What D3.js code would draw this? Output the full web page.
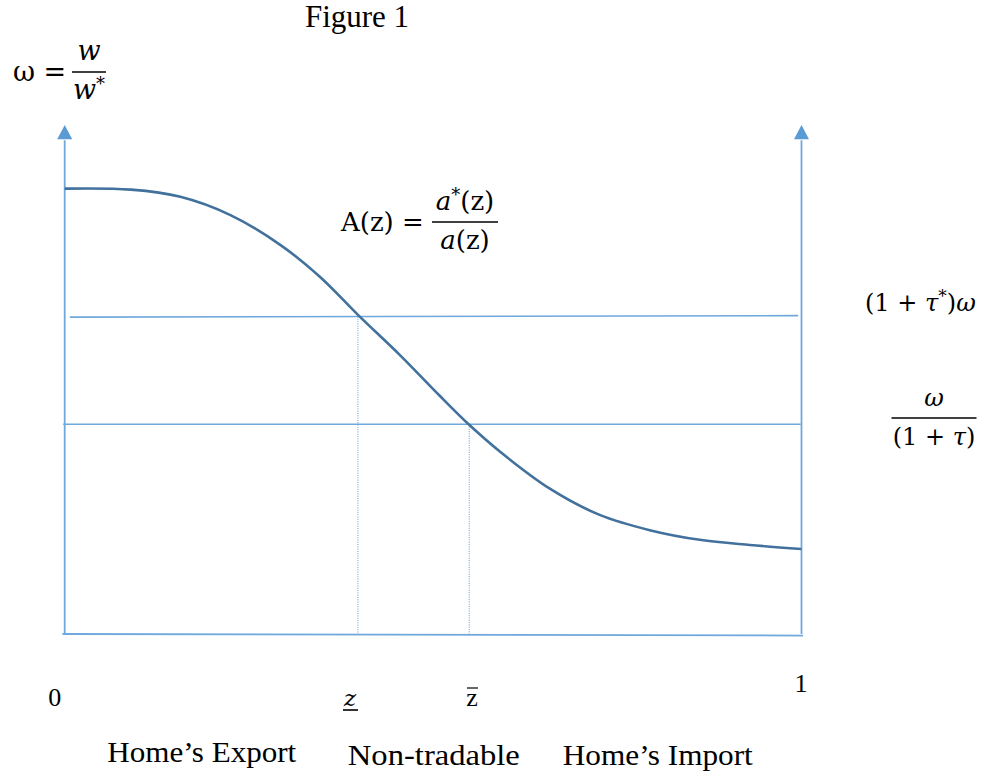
<!DOCTYPE html>
<html>
<head>
<meta charset="utf-8">
<script src="https://cdn.jsdelivr.net/npm/d3@7/dist/d3.min.js"></script>
<style>
    body { margin: 0; background: #fff; }
    svg text { font-family: "Liberation Serif", "Times New Roman", serif; fill: #000; }
    svg text.math { font-family: "DejaVu Serif", serif; }
</style>
</head>
<body>
<svg id="chart" width="995" height="776"></svg>
<script>
// Data: share of goods z (0..1) and relative productivity A(z)
const curveZ = [0, 0.09, 0.157, 0.225, 0.293, 0.347, 0.398, 0.455, 0.509, 0.549, 0.591, 0.659, 0.726, 0.794, 0.862, 0.930, 1.0];
const curveA = [8.75, 8.73, 8.59, 8.23, 7.64, 7.01, 6.27, 5.48, 4.68, 4.11, 3.58, 2.85, 2.34, 2.04, 1.85, 1.75, 1.67];
const levelUpper = 6.24;   // (1 + tau*) omega
const levelLower = 4.12;   // omega / (1 + tau)
const zCuts = [0.398, 0.549];  // z underline, z bar
const xTickValues = [0, 1];
const regionNames = ['Home\u2019s Export', 'Non-tradable', 'Home\u2019s Import'];

// Layout constants
const AXIS_COLOR = '#6FA8DC';
const ARROW_COLOR = '#5B9BD5';
const CURVE_COLOR = '#41719C';
const REGION_X = [0.186, 0.501, 0.805];
const REGION_W = [189, 172, 190];
const REGION_Y = [762, 765, 765];

const svg = d3.select('#chart');

const x = d3.scaleLinear().domain([0, 1]).range([64.7, 801.5]);
const y = d3.scaleLinear().domain([0, 10]).range([634, 125]);

// Axes (two vertical, one horizontal)
const g = svg.append('g').attr('class', 'axes');
[0, 1].forEach((v) => {
    g.append('line')
        .attr('x1', x(v)).attr('x2', x(v))
        .attr('y1', y(0)).attr('y2', y(9.7))
        .attr('stroke', AXIS_COLOR)
        .attr('stroke-width', 1.8);
    g.append('path')
        .attr('d', d3.line()([[x(v), y(10)], [x(v) - 7.5, y(9.72)], [x(v) + 7.5, y(9.72)]]) + 'Z')
        .attr('fill', ARROW_COLOR);
});
g.append('line')
    .attr('x1', x(-0.003)).attr('x2', x(1.002))
    .attr('y1', y(0)).attr('y2', y(-0.03))
    .attr('stroke', AXIS_COLOR)
    .attr('stroke-width', 1.8);

// Horizontal levels
g.append('line')
    .attr('x1', x(0.007)).attr('x2', x(0.9955))
    .attr('y1', y(levelUpper - 0.015)).attr('y2', y(levelUpper + 0.015))
    .attr('stroke', AXIS_COLOR)
    .attr('stroke-width', 1.6);
g.append('line')
    .attr('x1', x(-0.002)).attr('x2', x(0.999))
    .attr('y1', y(levelLower)).attr('y2', y(levelLower))
    .attr('stroke', AXIS_COLOR)
    .attr('stroke-width', 1.6);

// Dotted drop lines
const cutLevels = [levelUpper, levelLower];
g.selectAll('line.drop')
    .data(zCuts)
    .enter().append('line')
        .attr('class', 'drop')
        .attr('x1', (d) => x(d)).attr('x2', (d) => x(d))
        .attr('y1', (d, i) => y(cutLevels[i])).attr('y2', y(0))
        .attr('stroke', ARROW_COLOR)
        .attr('stroke-width', 1)
        .attr('stroke-dasharray', '1,1.3');

// Curve A(z)
svg.append('path')
    .datum(curveZ.map((z, i) => [z, curveA[i]]))
    .attr('d', d3.line()
        .x((d) => x(d[0]))
        .y((d) => y(d[1]))
        .curve(d3.curveCatmullRom.alpha(0.5)))
    .attr('fill', 'none')
    .attr('stroke', CURVE_COLOR)
    .attr('stroke-width', 2.6);

// Title
svg.append('text')
    .attr('x', 357).attr('y', 27)
    .attr('text-anchor', 'middle')
    .attr('font-size', 31)
    .text('Figure 1');

// Fraction helper
function fraction(cx, barY, barW, num, den, size) {
    svg.append('line')
        .attr('x1', cx - barW / 2).attr('x2', cx + barW / 2)
        .attr('y1', barY).attr('y2', barY)
        .attr('stroke', '#000').attr('stroke-width', 1.6);
    const tn = svg.append('text').attr('class', 'math')
        .attr('x', cx).attr('y', barY - 12)
        .attr('text-anchor', 'middle').attr('font-size', size);
    num(tn);
    const td = svg.append('text').attr('class', 'math')
        .attr('x', cx).attr('y', barY + 27)
        .attr('text-anchor', 'middle').attr('font-size', size);
    den(td);
}
function star(t, size) {
    t.append('tspan').attr('font-size', size).attr('dy', -9).text('*');
}

// omega = w / w*
svg.append('text').attr('class', 'math')
    .attr('x', 13).attr('y', 81).attr('font-size', 27)
    .text('\u03c9 =');
fraction(89, 72, 34,
    (t) => t.append('tspan').attr('font-style', 'italic').text('w'),
    (t) => { t.append('tspan').attr('font-style', 'italic').text('w');
             star(t, 18); },
    27);

// A(z) = a*(z) / a(z)
svg.append('text').attr('class', 'math')
    .attr('x', 341).attr('y', 231).attr('font-size', 26)
    .text('A(z) =');
fraction(465, 222, 66,
    (t) => { t.append('tspan').attr('font-style', 'italic').text('a');
             star(t, 18);
             t.append('tspan').attr('dy', 9).text('(z)'); },
    (t) => { t.append('tspan').attr('font-style', 'italic').text('a');
             t.append('tspan').text('(z)'); },
    26);

// (1 + tau*) omega
const tu = svg.append('text').attr('class', 'math')
    .attr('x', 865).attr('y', 311).attr('font-size', 24);
tu.append('tspan').text('(1 + ');
tu.append('tspan').attr('font-style', 'italic').text('\u03c4');
star(tu, 17);
tu.append('tspan').attr('dy', 9).text(')');
tu.append('tspan').attr('font-style', 'italic').text('\u03c9');

// omega / (1 + tau)
fraction(934, 418, 85,
    (t) => t.append('tspan').attr('font-style', 'italic').text('\u03c9'),
    (t) => { t.append('tspan').text('(1 + ');
             t.append('tspan').attr('font-style', 'italic').text('\u03c4');
             t.append('tspan').text(')'); },
    24);

// Axis tick labels 0 and 1
svg.selectAll('text.tick')
    .data(xTickValues)
    .enter().append('text')
        .attr('class', 'tick')
        .attr('x', (d) => x(d) + (d === 0 ? -10 : -0.5))
        .attr('y', (d) => d === 0 ? 706 : 692)
        .attr('text-anchor', 'middle')
        .attr('font-size', 26)
        .text((d) => d);

// z underline and z bar labels
svg.append('text').attr('class', 'math')
    .attr('x', 350).attr('y', 706).attr('font-size', 23)
    .attr('text-anchor', 'middle').attr('font-style', 'italic')
    .text('z');
svg.append('line')
    .attr('x1', 343).attr('x2', 358).attr('y1', 710).attr('y2', 710)
    .attr('stroke', '#000').attr('stroke-width', 1.6);
svg.append('text')
    .attr('x', 472).attr('y', 706).attr('font-size', 26)
    .attr('text-anchor', 'middle')
    .text('z');
svg.append('line')
    .attr('x1', 467).attr('x2', 478).attr('y1', 688).attr('y2', 688)
    .attr('stroke', '#000').attr('stroke-width', 1.2);

// Region names
svg.selectAll('text.region')
    .data(regionNames)
    .enter().append('text')
        .attr('class', 'region')
        .attr('x', (d, i) => x(REGION_X[i]))
        .attr('y', (d, i) => REGION_Y[i])
        .attr('text-anchor', 'middle')
        .attr('font-size', 30)
        .attr('textLength', (d, i) => REGION_W[i])
        .attr('lengthAdjust', 'spacingAndGlyphs')
        .text((d) => d);
</script>
</body>
</html>
